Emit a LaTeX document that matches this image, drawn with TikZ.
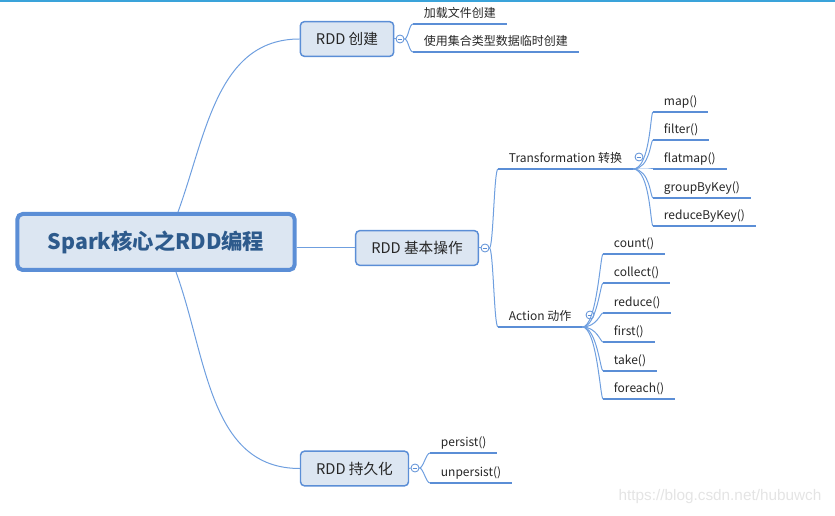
\documentclass[tikz,border=0pt]{standalone}
\usepackage{fontspec}
\usepackage{tikz}
\setmainfont{Noto Sans CJK SC}
\newfontfamily\wmfont{Liberation Sans}
\definecolor{boxfill}{HTML}{DCE6F2}
\definecolor{boxline}{HTML}{5B8ED6}
\definecolor{linkblue}{HTML}{6F9FDF}
\definecolor{roottext}{HTML}{2D5A8C}
\definecolor{darktext}{HTML}{262626}
\definecolor{topline}{HTML}{3AA3DA}
\definecolor{wmgray}{HTML}{E4E4E4}

\begin{document}
\begin{tikzpicture}[x=0.75pt, y=-0.75pt,
  rootbox/.style={draw=boxline, fill=boxfill, line width=3pt, rounded corners=4pt,
    minimum width=208pt, minimum height=42pt, text=roottext,
    font=\fontsize{16}{19}\selectfont\bfseries},
  topic/.style={draw=boxline, fill=boxfill, line width=1.1pt, rounded corners=3pt,
    minimum height=26pt, text=darktext, font=\fontsize{11}{13}\selectfont},
  fold/.style={circle, draw=boxline, fill=white, line width=0.6pt, minimum size=6pt, inner sep=0pt,
    path picture={\draw[boxline, line width=0.5pt] ([xshift=-1.8pt]path picture bounding box.center) -- ([xshift=1.8pt]path picture bounding box.center);}},
  leaf/.style={anchor=south west, inner xsep=8pt, inner ysep=1.5pt, text depth=3.5pt,
    text=darktext, font=\fontsize{9}{11}\selectfont},
  uline/.style={draw=boxline, line width=1.9pt},
  link/.style={draw=linkblue, line width=0.75pt},
  twig/.style={out=0, in=180, distance=3pt},
  fan/.style={out=0, in=180, out distance=#1, in distance=2pt},
]
\useasboundingbox (0,0) rectangle (835,516);
\fill[topline] (0,0) rectangle (835,2);

% central topic and the three main branches
\node[rootbox] (root) at (156,242) {Spark核心之RDD编程};
\node[topic, minimum width=70pt] (cr) at (347,39) {RDD 创建};
\node[topic, minimum width=92pt] (bo) at (417,248) {RDD 基本操作};
\node[topic, minimum width=81pt] (pe) at (354.5,468.5) {RDD 持久化};
\node[fold] (crf) at (400,39) {};
\node[fold] (bof) at (485,248) {};
\node[fold] (pef) at (415,468) {};

\draw[link] ([xshift=16.5pt]root.north) to[out=70, in=180] (cr.west);
\draw[link] (root.east |- bo.west) -- (bo.west);
\draw[link] ([xshift=15pt]root.south) to[out=-70, in=180] (pe.west);
\draw[link] (cr.east) -- (crf.west);
\draw[link] (bo.east) -- (bof.west);
\draw[link] (pe.east) -- (pef.west);

% RDD creation
\node[leaf] (c1) at (413,24) {加载文件创建};
\node[leaf] (c2) at (413,52) {使用集合类型数据临时创建};
\draw[link] (crf.east) to[twig] (c1.south west);
\draw[link] (crf.east) to[twig] (c2.south west);

% basic operations
\node[leaf] (tr) at (498,169) {Transformation 转换};
\node[leaf] (ac) at (498,327) {Action 动作};
\node[fold] (trf) at (639,157) {};
\node[fold] (acf) at (590,315) {};
\draw[link] (bof.east) to[twig] (tr.south west);
\draw[link] (bof.east) to[twig] (ac.south west);

\node[leaf] (t1) at (653,112) {map()};
\node[leaf] (t2) at (653,140) {filter()};
\node[leaf] (t3) at (653,169) {flatmap()};
\node[leaf] (t4) at (653,198) {groupByKey()};
\node[leaf] (t5) at (653,226) {reduceByKey()};
\foreach \n in {t1,t2,t3,t4,t5}
  \draw[link] (tr.south east) to[fan=13pt] (\n.south west);

\node[leaf] (a1) at (603,254) {count()};
\node[leaf] (a2) at (603,283) {collect()};
\node[leaf] (a3) at (603,313) {reduce()};
\node[leaf] (a4) at (603,342) {first()};
\node[leaf] (a5) at (603,371) {take()};
\node[leaf] (a6) at (603,399) {foreach()};
\foreach \n in {a1,a2,a3,a4,a5,a6}
  \draw[link] (ac.south east) to[fan=11pt] (\n.south west);

% persistence
\node[leaf] (p1) at (430,453) {persist()};
\node[leaf] (p2) at (430,483) {unpersist()};
\draw[link] (pef.east) to[twig] (p1.south west);
\draw[link] (pef.east) to[twig] (p2.south west);

% underlines of the text topics
\foreach \n in {c1,c2,tr,ac,t1,t2,t3,t4,t5,a1,a2,a3,a4,a5,a6,p1,p2}
  \draw[uline] (\n.south west) -- (\n.south east);

\node[text=wmgray, font=\wmfont\fontsize{11.5}{13}\selectfont] (wm) at (720,497) {https://blog.csdn.net/hubuwch};
\end{tikzpicture}
\end{document}
